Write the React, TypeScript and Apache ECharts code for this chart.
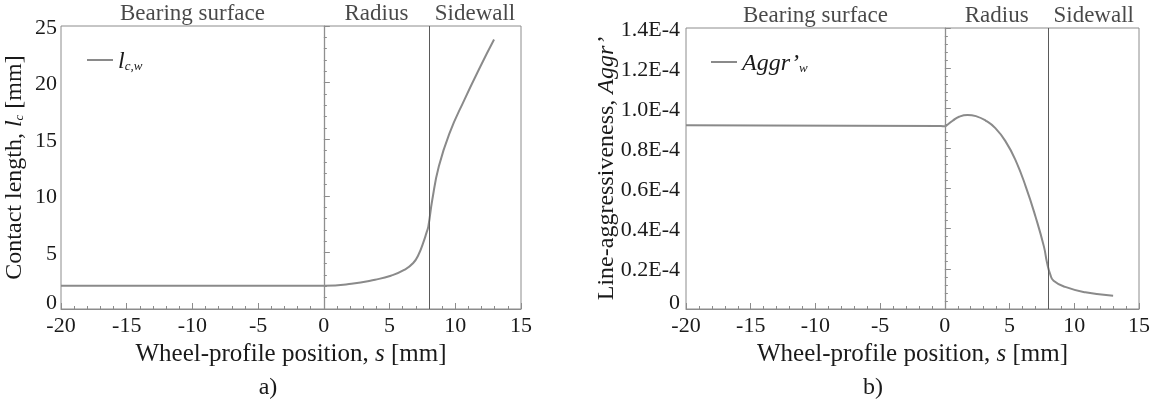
import React, { useEffect, useRef } from "react";
import * as echarts from "echarts";

// ---- data ----
const xTicksMin = -20;
const xTicksMax = 15;
const regionNames = ["Bearing surface", "Radius", "Sidewall"];
const regionCenters = [-10, 4, 11.5];
const regionBounds = [0, 8];

// a) contact length l_c,w [mm]
const sLeft = [-20, 0, 2.1, 3.9, 5.1, 6.15, 6.8, 7.2, 7.55, 7.8, 7.95, 8.25, 8.75, 9.55, 10.7, 11.9, 12.95];
const lcw = [2.05, 2.06, 2.23, 2.59, 2.94, 3.47, 4.06, 4.79, 5.82, 6.7, 7.3, 9.65, 12.6, 15.5, 18.5, 21.4, 23.8];

// b) line-aggressiveness Aggr'_w
const sRight = [-20, -0.3, 0, 0.2, 0.6, 1.1, 1.75, 2.4, 3.15, 3.9, 4.7, 5.45, 6.25, 7.0, 7.65, 7.9, 8.15, 8.4, 9.3, 10.85, 13.0];
const aggrW = [
  0.915e-4, 0.912e-4, 0.91e-4, 0.918e-4, 0.938e-4, 0.958e-4, 0.967e-4, 0.961e-4, 0.939e-4, 0.901e-4,
  0.834e-4, 0.743e-4, 0.61e-4, 0.461e-4, 0.312e-4, 0.229e-4, 0.171e-4, 0.141e-4, 0.11e-4, 0.083e-4, 0.066e-4,
];

const FONT = "Liberation Serif";
const AXIS = "#8c8c8c";
const TXT = "#1a1a1a";
const LINE = "#8a8a8a";

function xAxisCfg(gridIndex: number) {
  return {
    type: "value",
    gridIndex,
    min: xTicksMin,
    max: xTicksMax,
    interval: 5,
    axisLine: { show: true, onZero: false, lineStyle: { color: AXIS, width: 1 } },
    axisTick: { show: true, inside: true, length: 6, lineStyle: { color: AXIS } },
    minorTick: { show: true, splitNumber: 5, length: 3, lineStyle: { color: AXIS } },
    splitLine: { show: false },
    axisLabel: { color: TXT, fontFamily: FONT, fontSize: 22, margin: 4 },
    name: "{t|Wheel-profile position, }{i|s}{t| [mm]}",
    nameLocation: "middle",
    nameGap: 25,
    nameTextStyle: {
      color: TXT,
      fontFamily: FONT,
      fontSize: 25,
      rich: {
        t: { color: TXT, fontFamily: FONT, fontSize: 25 },
        i: { color: TXT, fontFamily: FONT, fontSize: 25, fontStyle: "italic" },
      },
    },
  };
}

const zeroRich = { z: { color: TXT, fontFamily: FONT, fontSize: 22, padding: [0, 0, 16, 0] } };
const subRich = { color: TXT, fontFamily: FONT, fontSize: 13, fontStyle: "italic", verticalAlign: "bottom", padding: [10, 0, 0, 0] };

export default function App() {
  const ref = useRef<HTMLDivElement>(null);
  useEffect(() => {
    if (!ref.current) return;
    const chart = echarts.init(ref.current, null, { renderer: "svg" });
    const leftData = sLeft.map((s, i) => [s, lcw[i]]);
    const rightData = sRight.map((s, i) => [s, aggrW[i]]);
    const markLines = {
      silent: true,
      symbol: "none",
      label: { show: false },
      data: [
        { xAxis: regionBounds[0], lineStyle: { color: "#8f8f8f", width: 1.3, type: "solid" } },
        { xAxis: regionBounds[1], lineStyle: { color: "#5a5a5a", width: 1, type: "solid" } },
      ],
    };
    const regionLabel = (yTop: number, xi: number) => ({
      type: "scatter",
      xAxisIndex: xi,
      yAxisIndex: xi,
      silent: true,
      clip: false,
      symbolSize: 1,
      itemStyle: { color: "transparent" },
      data: regionCenters.map((c) => [c, yTop]),
      label: {
        show: true,
        position: "top",
        distance: 2,
        color: TXT,
        fontFamily: FONT,
        fontSize: 23,
        formatter: (p: any) => regionNames[p.dataIndex],
      },
    });
    const legendBase = {
      padding: 0,
      itemWidth: 26,
      itemHeight: 2,
      icon: "rect",
    };
    chart.setOption({
      animation: false,
      textStyle: { fontFamily: FONT },
      grid: [
        { left: 60, top: 26, width: 461, height: 283, show: true, borderColor: AXIS, borderWidth: 1, backgroundColor: "transparent" },
        { left: 686, top: 28, width: 455, height: 281, show: true, borderColor: AXIS, borderWidth: 1, backgroundColor: "transparent" },
      ],
      xAxis: [xAxisCfg(0), xAxisCfg(1)],
      yAxis: [
        {
          type: "value",
          gridIndex: 0,
          min: 0,
          max: 25,
          interval: 5,
          axisLine: { show: true, lineStyle: { color: AXIS } },
          axisTick: { show: true, inside: true, length: 6, lineStyle: { color: AXIS } },
          minorTick: { show: true, splitNumber: 5, length: 3, lineStyle: { color: AXIS } },
          splitLine: { show: false },
          axisLabel: {
            color: TXT,
            fontFamily: FONT,
            fontSize: 22,
            margin: 4,
            formatter: (v: number) => (v === 0 ? "{z|0}" : String(v)),
            rich: zeroRich,
          },
          name: "{t|Contact length, }{i|l}{s|c}{t| [mm]}",
          nameLocation: "middle",
          nameGap: 36,
          nameTextStyle: {
            color: TXT,
            fontFamily: FONT,
            fontSize: 24,
            rich: {
              t: { color: TXT, fontFamily: FONT, fontSize: 24 },
              i: { color: TXT, fontFamily: FONT, fontSize: 24, fontStyle: "italic" },
              s: subRich,
            },
          },
        },
        {
          type: "value",
          gridIndex: 1,
          min: 0,
          max: 1.4e-4,
          interval: 0.2e-4,
          axisLine: { show: true, lineStyle: { color: AXIS } },
          axisTick: { show: true, inside: true, length: 6, lineStyle: { color: AXIS } },
          minorTick: { show: true, splitNumber: 5, length: 3, lineStyle: { color: AXIS } },
          splitLine: { show: false },
          axisLabel: {
            color: TXT,
            fontFamily: FONT,
            fontSize: 22,
            margin: 6,
            formatter: (v: number) => (Math.abs(v) < 1e-12 ? "{z|0}" : (v * 1e4).toFixed(1) + "E-4"),
            rich: zeroRich,
          },
          name: "{t|Line-aggressiveness, }{i|Aggr\u2019}",
          nameLocation: "middle",
          nameGap: 69,
          nameTextStyle: {
            color: TXT,
            fontFamily: FONT,
            fontSize: 24,
            rich: {
              t: { color: TXT, fontFamily: FONT, fontSize: 24 },
              i: { color: TXT, fontFamily: FONT, fontSize: 24, fontStyle: "italic" },
            },
          },
        },
      ],
      legend: [
        {
          ...legendBase,
          left: 87,
          top: 48,
          data: ["lcw"],
          formatter: () => "{i|l}{s|c,w}",
          textStyle: {
            color: TXT,
            fontFamily: FONT,
            fontSize: 24,
            rich: {
              i: { color: TXT, fontFamily: FONT, fontSize: 24, fontStyle: "italic" },
              s: subRich,
            },
          },
        },
        {
          ...legendBase,
          left: 711,
          top: 50,
          data: ["aggr"],
          formatter: () => "{i|Aggr\u2019}{s|w}",
          textStyle: {
            color: TXT,
            fontFamily: FONT,
            fontSize: 24,
            rich: {
              i: { color: TXT, fontFamily: FONT, fontSize: 24, fontStyle: "italic" },
              s: subRich,
            },
          },
        },
      ],
      graphic: [
        { type: "text", x: 268, y: 386, style: { text: "a)", fontFamily: FONT, fontSize: 24, fill: TXT, textAlign: "center", textVerticalAlign: "middle" } },
        { type: "text", x: 873, y: 386, style: { text: "b)", fontFamily: FONT, fontSize: 24, fill: TXT, textAlign: "center", textVerticalAlign: "middle" } },
      ],
      series: [
        {
          name: "lcw",
          type: "line",
          xAxisIndex: 0,
          yAxisIndex: 0,
          data: leftData,
          symbol: "none",
          smooth: 0.5,
          lineStyle: { color: LINE, width: 2 },
          itemStyle: { color: LINE },
          markLine: markLines,
        },
        {
          name: "aggr",
          type: "line",
          xAxisIndex: 1,
          yAxisIndex: 1,
          data: rightData,
          symbol: "none",
          smooth: 0.5,
          lineStyle: { color: LINE, width: 2 },
          itemStyle: { color: LINE },
          markLine: markLines,
        },
        regionLabel(25, 0),
        regionLabel(1.4e-4, 1),
      ],
    });
    return () => chart.dispose();
  }, []);
  return <div ref={ref} style={{ position: "fixed", left: 0, top: 0, width: 1153, height: 403 }} />;
}
